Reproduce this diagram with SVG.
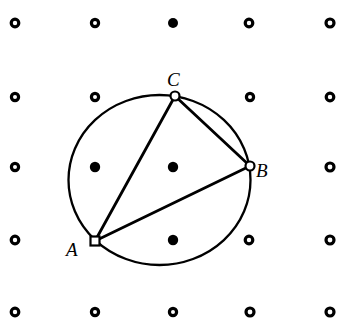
<svg xmlns="http://www.w3.org/2000/svg" width="338" height="322" viewBox="0 0 338 322">
<style>
.d{fill:#fff;stroke:#000;stroke-width:3.2}
.f{fill:#000}
.l{fill:none;stroke:#000;stroke-width:2.8;stroke-linecap:round}
.c{fill:none;stroke:#000;stroke-width:2.3}
.p{fill:#fff;stroke:#000;stroke-width:2.2}
.t{font-family:"Liberation Serif",serif;font-style:italic;font-size:19px;fill:#000}
</style>
<rect width="338" height="322" fill="#fff"/>
<g id="grid">
<circle class="d" cx="15" cy="23" r="3.8"/><circle class="d" cx="95" cy="23" r="3.6"/><circle class="f" cx="173" cy="23" r="5"/><circle class="d" cx="249" cy="23" r="3.8"/><circle class="d" cx="330" cy="23" r="4"/>
<circle class="d" cx="15" cy="97" r="3.6"/><circle class="d" cx="95" cy="97" r="3.6"/><circle class="d" cx="250" cy="97" r="3.6"/><circle class="d" cx="330" cy="97" r="3.8"/>
<circle class="d" cx="15" cy="167" r="3.6"/><circle class="f" cx="95" cy="167" r="5.2"/><circle class="f" cx="173" cy="167" r="5.2"/><circle class="d" cx="330" cy="167" r="4"/>
<circle class="d" cx="15" cy="240" r="3.8"/><circle class="f" cx="173" cy="240" r="5.2"/><circle class="d" cx="249" cy="240" r="3.8"/><circle class="d" cx="330" cy="240" r="4"/>
<circle class="d" cx="15" cy="312" r="3.8"/><circle class="d" cx="95" cy="312" r="3.6"/><circle class="d" cx="173" cy="312" r="3.6"/><circle class="d" cx="250" cy="312" r="4"/><circle class="d" cx="330" cy="312" r="4"/>
</g>
<g id="connectors">
<ellipse class="c" cx="159.5" cy="180" rx="91" ry="85"/>
<line class="l" x1="95" y1="241" x2="175" y2="96"/>
<line class="l" x1="175" y1="96" x2="250" y2="166" stroke-width="3.4"/>
<line class="l" x1="95" y1="241" x2="250" y2="166"/>
</g>
<g id="A"><rect class="p" x="90.5" y="236.5" width="9" height="9"/><text class="t" x="66" y="256">A</text></g>
<g id="B"><circle class="p" cx="250" cy="166" r="4.5"/><text class="t" x="256" y="177">B</text></g>
<g id="C"><circle class="p" cx="175" cy="96" r="4.5"/><text class="t" x="167" y="86">C</text></g>
</svg>
